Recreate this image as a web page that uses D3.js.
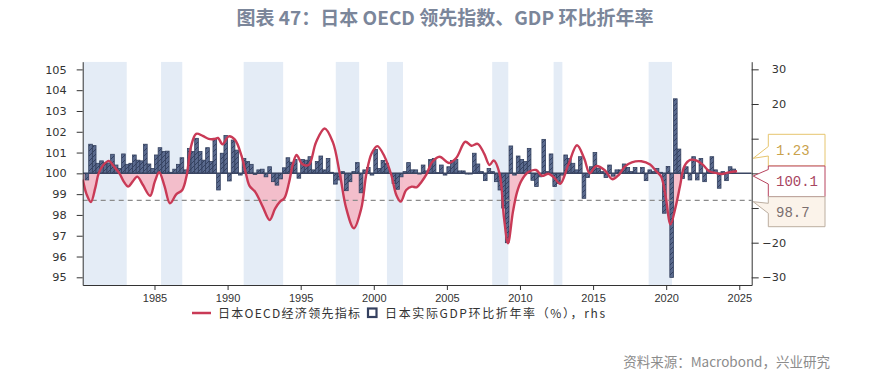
<!DOCTYPE html>
<html><head><meta charset="utf-8">
<script src="https://cdn.jsdelivr.net/npm/d3@7"></script>
<style>body{margin:0;background:#fff;} svg{display:block;}</style>
</head><body><svg id="c" width="882" height="378"></svg>
<script>
// ---------- data ----------
const recessionStart = [1980.1, 1985.45, 1991.1, 1997.4, 2000.9, 2008.1, 2012.3, 2018.8];
const recessionEnd   = [1983.1, 1986.9, 1993.8, 1999.0, 2002.0, 2009.2, 2012.9, 2020.4];

const cliDates = [1980.1,1980.35,1980.65,1980.95,1981.18,1981.5,1981.88,1982.2,1982.6,1982.9,
  1983.2,1983.5,1983.82,1984.2,1984.7,1985.02,1985.32,1985.68,1986.06,1986.5,1986.9,1987.2,1987.5,
  1987.85,1988.3,1988.7,1989.1,1989.35,1989.65,1990.08,1990.5,1990.95,1991.25,1991.5,1991.9,1992.4,
  1992.88,1993.25,1993.6,1993.88,1994.2,1994.45,1994.72,1995.1,1995.55,1996.05,1996.64,1997.2,
  1997.67,1998.12,1998.64,1999.14,1999.5,1999.85,2000.24,2000.74,2001.2,2001.54,2001.84,2002.22,
  2002.6,2002.93,2003.27,2003.6,2004.0,2004.5,2005.15,2005.65,2006.26,2006.68,2007.1,2007.55,
  2007.92,2008.2,2008.6,2008.9,2009.18,2009.52,2009.8,2010.1,2010.55,2011.1,2011.5,2011.95,2012.35,
  2012.75,2013.3,2013.9,2014.4,2014.77,2015.2,2015.8,2016.3,2016.75,2017.2,2017.65,2018.3,2018.9,
  2019.3,2019.65,2019.95,2020.3,2020.65,2020.95,2021.25,2021.65,2022.05,2022.5,2022.95,2023.4,
  2023.8,2024.3,2024.85];
const cliValues = [99.7,99.0,98.62,99.3,100.0,100.4,100.6,100.35,100.0,99.6,
  99.36,99.6,99.84,99.45,98.92,99.6,100.05,99.4,98.56,99.0,99.2,99.9,101.3,
  101.9,101.8,101.66,101.65,101.7,101.4,101.78,101.62,100.85,100.0,99.4,99.1,98.4,
  97.75,98.3,98.65,98.8,99.55,100.4,100.88,100.45,100.4,101.5,102.16,101.5,
  100.0,98.3,97.36,98.3,100.0,100.95,101.31,100.8,99.92,98.96,98.64,99.2,
  99.36,99.33,99.6,99.95,100.55,100.8,100.5,100.75,101.52,101.33,101.42,100.95,
  100.4,100.62,100.0,97.9,96.64,98.16,99.1,99.65,100.05,100.16,99.88,99.98,99.78,
  99.5,100.4,101.35,100.7,100.0,100.35,100.15,99.72,99.92,100.35,100.53,100.58,100.42,
  100.12,99.85,98.95,97.55,98.4,99.4,100.35,100.65,100.62,100.42,100.1,100.02,
  99.97,100.05,100.1];

// Japan real GDP q/q annualised, %, quarterly from 1980Q2 to 2024Q3
const gdpFirstQuarter = 1980.25;
const gdpValues = [
  -1.9, 8.4, 8.0,                 // 1980 Q2-Q4
  2.9, 3.6, 3.0, 3.0,             // 1981
  5.5, 2.4, 1.4, 5.6,             // 1982
  2.6, 2.9, 5.3, 3.8,             // 1983
  3.6, 8.4, 2.7, 1.4,             // 1984
  5.3, 7.4, 6.3, 6.4,             // 1985
  0.3, 1.2, 2.6, 4.5,             // 1986
  1.0, 7.2, 6.3, 10.1,            // 1987
  6.3, 3.8, 7.4, 3.4,             // 1988
  10.1, -4.8, 5.8, 10.9,          // 1989
  -2.2, 9.6, 6.7, -0.5,           // 1990
  4.3, 3.4, 2.6, -0.3,            // 1991
  1.0, 1.2, -1.0, 1.9,            // 1992
  -2.4, -3.4, -1.6, 1.6,          // 1993
  4.5, 3.2, 4.0, -1.4,            // 1994
  4.0, 3.8, 4.8, 1.0,             // 1995
  3.4, 5.0, 1.0, 4.3,             // 1996
  0.3, -3.1, -1.9, 0.5,           // 1997
  -5.0, -2.4, 0.5, 3.1,           // 1998
  -5.6, 1.0, 1.7, -0.5,           // 1999
  6.9, 1.4, 3.7, 2.9,             // 2000
  0.0, -2.9, -4.6, -1.0,          // 2001
  0.5, 3.1, 1.0, 1.0,             // 2002
  -0.2, 2.4, 0.7, 4.0,            // 2003
  4.3, 0.2, 2.4, -0.5,            // 2004
  1.9, 3.7, 4.0, 0.7,             // 2005
  0.7, -0.2, -0.2, 5.8,           // 2006
  2.7, 0.5, -2.1, 1.4,            // 2007
  0.5, -2.4, -4.8, -10.0,         // 2008
  -20.0, 7.9, -0.5, 5.0,          // 2009
  4.0, 3.4, 7.2, -2.0,            // 2010
  -3.8, -1.0, 9.8, 0.5,           // 2011
  5.6, -3.8, -2.9, -0.5,          // 2012
  5.3, 4.3, 2.9, 1.0,             // 2013
  4.8, -7.2, -1.2, 1.9,           // 2014
  6.0, 1.4, 0.5, -1.2,            // 2015
  2.4, -0.8, 1.0, 1.0,            // 2016
  2.7, 1.7, 0.5, 1.7,             // 2017
  0.0, 1.7, -2.1, 1.0,            // 2018
  0.5, 1.4, 0.3, -11.5,           // 2019
  2.0, -30.0, 21.5, 7.0,          // 2020
  -1.5, 1.9, -1.9, 4.8,           // 2021
  -1.9, 4.3, -2.4, 1.0,           // 2022
  4.8, 1.0, -4.3, 0.5,            // 2023
  -2.1, 1.9, 1.23                 // 2024 Q1-Q3
];

const yearTicks = [1985, 1990, 1995, 2000, 2005, 2010, 2015, 2020, 2025];
const leftTicks = [95, 96, 97, 98, 99, 100, 101, 102, 103, 104, 105];
const rightTicks = [-30, -20, -10, 0, 10, 20, 30];
const rightTickLabelsShown = [-30, -20, 20, 30]; // 10, 0 and -10 sit behind the value boxes
const baseLevel = 100;
const thresholdLevel = 98.7;
const calloutLabels = ["1.23", "100.1", "98.7"];

const titleText = "图表 47：日本 OECD 领先指数、GDP 环比折年率";
const legendLabels = ["日本OECD经济领先指标", "日本实际GDP环比折年率（%），rhs"];
const sourceText = "资料来源：Macrobond，兴业研究";

// ---------- layout ----------
const L = 82.7, R = 751.7, T = 61.7, B = 285;
const svg = d3.select("#c");

const x = d3.scaleLinear().domain([1980.089, 2025.85]).range([L, R]);
const yL = d3.scaleLinear().domain([94.63, 105.37]).range([B, T]);
const yR = d3.scaleLinear().domain([-32.2, 32.2]).range([B, T]);

const defs = svg.append("defs");
defs.append("clipPath").attr("id", "plotClip").append("rect")
  .attr("x", L).attr("y", T).attr("width", R - L).attr("height", B - T);
defs.append("clipPath").attr("id", "belowClip").append("rect")
  .attr("x", L).attr("y", yL(baseLevel)).attr("width", R - L).attr("height", B - yL(baseLevel));
const pat = defs.append("pattern").attr("id", "hatch").attr("patternUnits", "userSpaceOnUse")
  .attr("width", 5).attr("height", 5);
pat.append("rect").attr("width", 5).attr("height", 5).attr("fill", "#5a6a8e");
pat.append("path").attr("d", "M0,5 L5,0 M-1,1 L1,-1 M4,6 L6,4").attr("stroke", "#34405f").attr("stroke-width", 1);

// title
svg.append("text").attr("x", 445).attr("y", 25).attr("text-anchor", "middle")
  .attr("font-family", "'Noto Sans CJK SC', sans-serif").attr("font-weight", "bold")
  .attr("font-size", 19).attr("fill", "#7b869a").text(titleText);

const plot = svg.append("g").attr("clip-path", "url(#plotClip)");

// recession bands
plot.selectAll("rect.rec").data(recessionStart.map((s, i) => [s, recessionEnd[i]]))
  .enter().append("rect").attr("class", "rec")
  .attr("x", d => x(d[0])).attr("width", d => x(d[1]) - x(d[0]))
  .attr("y", T).attr("height", B - T).attr("fill", "#e4ecf6");

// CLI series
const cli = cliDates.map((t, i) => ({ t, v: cliValues[i] }));
const curve = d3.curveCatmullRom.alpha(0.5);
const area = d3.area().x(d => x(d.t)).y0(yL(baseLevel)).y1(d => yL(d.v)).curve(curve);
plot.append("g").attr("clip-path", "url(#belowClip)")
  .append("path").datum(cli).attr("d", area).attr("fill", "#f4b9c6").attr("opacity", 0.9);

// GDP bars
const qw = 0.25;
const gdp = gdpValues.map((v, i) => ({ t: gdpFirstQuarter + i * qw, v }));
plot.selectAll("rect.bar").data(gdp).enter().append("rect").attr("class", "bar")
  .attr("x", d => x(d.t)).attr("width", d => x(d.t + qw) - x(d.t))
  .attr("y", d => Math.min(yR(0), yR(d.v))).attr("height", d => Math.abs(yR(d.v) - yR(0)))
  .attr("fill", "url(#hatch)").attr("stroke", "#33405e").attr("stroke-width", 0.8);

// base line & threshold
plot.append("line").attr("x1", L).attr("x2", R).attr("y1", yL(baseLevel)).attr("y2", yL(baseLevel))
  .attr("stroke", "#3a4562").attr("stroke-width", 1.5);
plot.append("line").attr("x1", L).attr("x2", R).attr("y1", yL(thresholdLevel)).attr("y2", yL(thresholdLevel))
  .attr("stroke", "#8c8c8c").attr("stroke-width", 1.2).attr("stroke-dasharray", "5,4");

// CLI line
const line = d3.line().x(d => x(d.t)).y(d => yL(d.v)).curve(curve);
plot.append("path").datum(cli).attr("d", line).attr("fill", "none")
  .attr("stroke", "#c93a56").attr("stroke-width", 2.4).attr("stroke-linejoin", "round");

// axes
function styleAxis(g) {
  g.selectAll(".domain").attr("stroke", "#333").attr("stroke-width", 1);
  g.selectAll(".tick line").attr("stroke", "#333");
  g.selectAll(".tick text").attr("fill", "#333");
}
svg.append("g").attr("transform", `translate(${L},0)`)
  .call(d3.axisLeft(yL).tickValues(leftTicks).tickSize(6).tickSizeOuter(0).tickPadding(10).tickFormat(d3.format("d")))
  .call(styleAxis)
  .selectAll("text").attr("font-family", "'DejaVu Sans', sans-serif").attr("font-size", 11.3);

const ra = svg.append("g").attr("transform", `translate(${R},0)`)
  .call(d3.axisRight(yR).tickValues(rightTicks).tickSize(7).tickSizeOuter(0)
    .tickFormat(d => rightTickLabelsShown.includes(d) ? d3.format("d")(d) : ""))
  .call(styleAxis);
ra.selectAll("text").attr("font-family", "'DejaVu Sans', sans-serif").attr("font-size", 11.3)
  .attr("text-anchor", "end").attr("x", 34.5);

svg.append("g").attr("transform", `translate(0,${B})`)
  .call(d3.axisBottom(x).tickValues(yearTicks).tickSize(5).tickSizeOuter(0).tickPadding(4).tickFormat(d3.format("d")))
  .call(styleAxis)
  .selectAll("text").attr("font-family", "'Liberation Sans', sans-serif").attr("font-size", 11);

// callouts (last values)
const callouts = [
  { top: 134.3, bot: 166, n1: 146.5, n2: 156, tip: 158.3, stroke: "#e6c56e", fill: "#ffffff", color: "#c9a24c" },
  { top: 166, bot: 196.7, n1: 169.5, n2: 184, tip: 176, stroke: "#b8445f", fill: "#ffffff", color: "#a8455f" },
  { top: 196.7, bot: 226.7, n1: 203.3, n2: 213.3, tip: 201.7, stroke: "#bcaea0", fill: "#fbf3ea", color: "#7a6e6e" }
];
const bx0 = 768.3, bx1 = 825;
callouts.forEach((c, i) => {
  svg.append("path")
    .attr("d", `M${bx0},${c.top} L${bx1},${c.top} L${bx1},${c.bot} L${bx0},${c.bot} L${bx0},${c.n2} L${R + 1.5},${c.tip} L${bx0},${c.n1} Z`)
    .attr("fill", c.fill).attr("stroke", c.stroke).attr("stroke-width", 1);
  svg.append("text").attr("x", 776).attr("y", (c.top + c.bot) / 2 + 5)
    .attr("font-family", "'Liberation Mono', monospace").attr("font-size", 14)
    .attr("fill", c.color).text(calloutLabels[i]);
});

// legend
svg.append("line").attr("x1", 192).attr("x2", 211).attr("y1", 313).attr("y2", 313)
  .attr("stroke", "#c93a56").attr("stroke-width", 2.5);
svg.append("text").attr("x", 218).attr("y", 317.5).attr("font-family", "'Noto Sans CJK SC', sans-serif")
  .attr("font-size", 12).attr("fill", "#333").attr("textLength", 142).attr("lengthAdjust", "spacing")
  .text(legendLabels[0]);
svg.append("rect").attr("x", 368).attr("y", 308.5).attr("width", 8.5).attr("height", 8.5)
  .attr("fill", "#ffffff").attr("stroke", "#34405f").attr("stroke-width", 2.2);
svg.append("text").attr("x", 385).attr("y", 317.5).attr("font-family", "'Noto Sans CJK SC', sans-serif")
  .attr("font-size", 12).attr("fill", "#333").attr("textLength", 220).attr("lengthAdjust", "spacing")
  .text(legendLabels[1]);

// source
svg.append("text").attr("x", 830).attr("y", 367).attr("text-anchor", "end")
  .attr("font-family", "'Noto Sans CJK SC', sans-serif").attr("font-size", 13.5)
  .attr("fill", "#8c8c8c").text(sourceText);
</script>
</body></html>
